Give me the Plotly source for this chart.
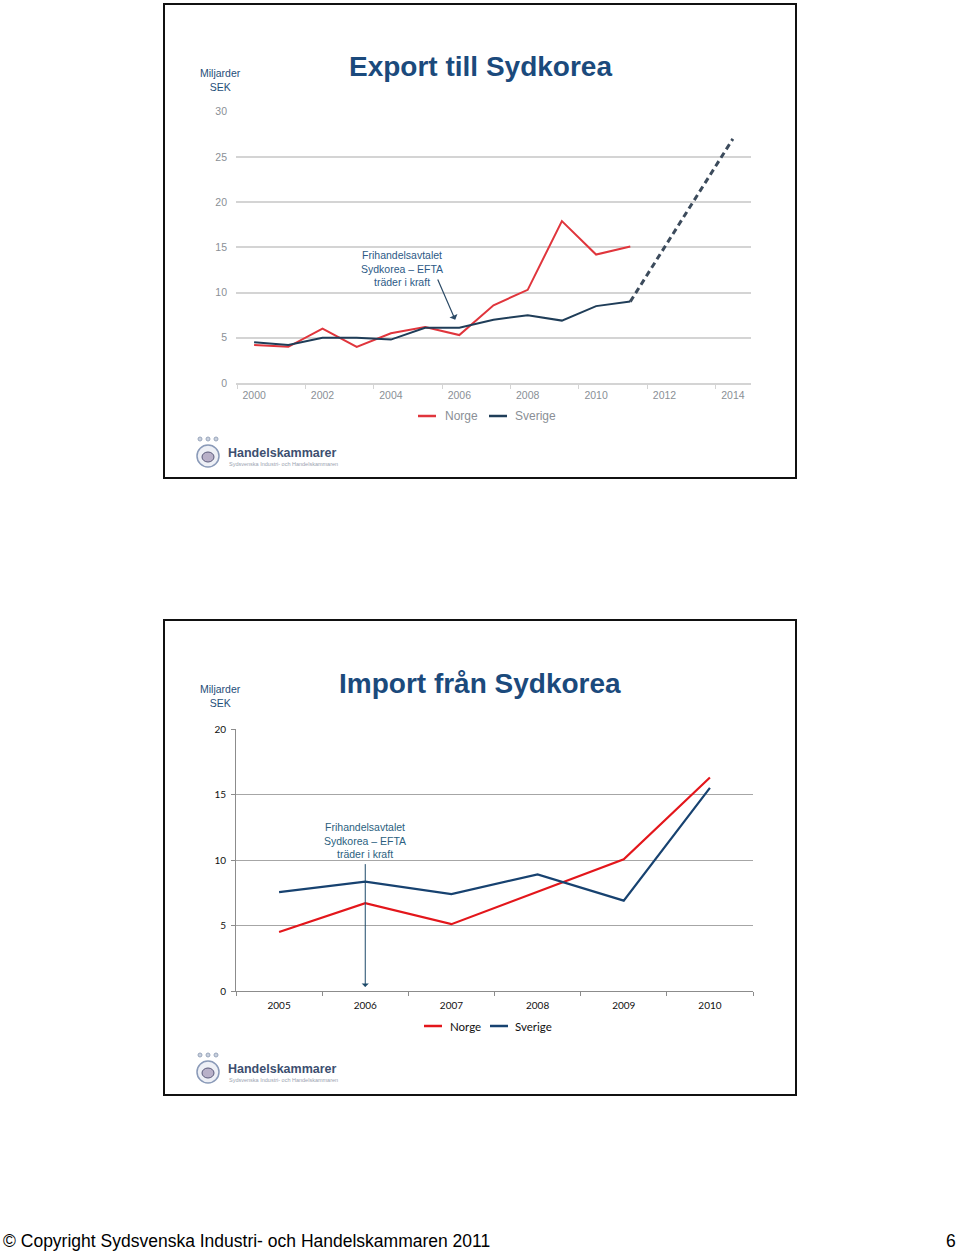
import plotly.graph_objects as go

W, H = 960, 1251

# ---------------- data ----------------
exp_years = [2000, 2001, 2002, 2003, 2004, 2005, 2006, 2007, 2008, 2009, 2010, 2011]
exp_norge = [4.2, 4.0, 6.0, 4.0, 5.5, 6.2, 5.3, 8.6, 10.3, 17.9, 14.2, 15.1]
exp_sverige = [4.5, 4.2, 5.0, 5.0, 4.8, 6.1, 6.1, 7.0, 7.5, 6.9, 8.5, 9.0]
proj_years = [2011, 2012, 2013, 2014]
proj_sverige = [9.0, 15.0, 21.0, 27.0]
exp_yticks = [0, 5, 10, 15, 20, 25, 30]
exp_xticks = [2000, 2002, 2004, 2006, 2008, 2010, 2012, 2014]

imp_years = [2005, 2006, 2007, 2008, 2009, 2010]
imp_norge = [4.5, 6.7, 5.1, 7.6, 10.05, 16.3]
imp_sverige = [7.55, 8.35, 7.4, 8.9, 6.9, 15.5]
imp_yticks = [0, 5, 10, 15, 20]

series_names = ["Norge", "Sverige"]
annot_text = "Frihandelsavtalet<br>Sydkorea – EFTA<br>träder i kraft"


def px(x):
    return x / W


def py(y):
    return 1 - y / H


RED_TOP = "#e0353c"
NAVY_TOP = "#1f3d58"
RED = "#e3161b"
NAVY = "#174270"
TITLE_BLUE = "#1b4a7c"

fig = go.Figure()

# ---------------- top chart: export ----------------
fig.add_trace(go.Scatter(x=exp_years, y=exp_norge, mode="lines", name=series_names[0],
                         line=dict(color=RED_TOP, width=2), xaxis="x", yaxis="y", showlegend=False))
fig.add_trace(go.Scatter(x=exp_years, y=exp_sverige, mode="lines", name=series_names[1],
                         line=dict(color=NAVY_TOP, width=2), xaxis="x", yaxis="y", showlegend=False))
fig.add_trace(go.Scatter(x=proj_years, y=proj_sverige, mode="lines", name="Prognos",
                         line=dict(color="#3c4b5c", width=3, dash="6px,4px"), xaxis="x", yaxis="y",
                         showlegend=False))

# ---------------- bottom chart: import ----------------
fig.add_trace(go.Scatter(x=imp_years, y=imp_norge, mode="lines", name=series_names[0],
                         line=dict(color=RED, width=2.2), xaxis="x2", yaxis="y2", showlegend=False))
fig.add_trace(go.Scatter(x=imp_years, y=imp_sverige, mode="lines", name=series_names[1],
                         line=dict(color=NAVY, width=2.2), xaxis="x2", yaxis="y2", showlegend=False))

shapes = []
annotations = []

# frames
for (y0, y1) in [(4, 478), (620, 1095)]:
    shapes.append(dict(type="rect", xref="paper", yref="paper", x0=px(164), x1=px(796),
                       y0=py(y0), y1=py(y1), line=dict(color="#111111", width=2)))

# titles
TITLE_FONT = "Liberation Sans Narrow, Arial Narrow, Liberation Sans, Arial"
annotations.append(dict(text="<b>Export till Sydkorea</b>", x=px(480), y=py(66), xref="paper", yref="paper",
                        showarrow=False, xanchor="center", yanchor="middle",
                        font=dict(family=TITLE_FONT, size=28, color=TITLE_BLUE)))
annotations.append(dict(text="<b>Import från Sydkorea</b>", x=px(480), y=py(683), xref="paper", yref="paper",
                        showarrow=False, xanchor="center", yanchor="middle",
                        font=dict(family=TITLE_FONT, size=28, color=TITLE_BLUE)))
for yc in (80, 696):
    annotations.append(dict(text="Miljarder<br>SEK", x=px(220), y=py(yc), xref="paper", yref="paper",
                            showarrow=False, xanchor="center", yanchor="middle", align="center",
                            font=dict(family="Liberation Sans, Arial", size=10.5, color="#1f4e79")))

# top annotation with arrow
annotations.append(dict(text=annot_text, x=2004.33, y=12.7, xref="x", yref="y", showarrow=False,
                        xanchor="center", yanchor="middle", align="center",
                        font=dict(family="Liberation Sans, Arial", size=10.5, color="#2c5a86")))
annotations.append(dict(text="", x=2005.88, y=7.0, ax=2005.35, ay=11.6, xref="x", yref="y",
                        axref="x", ayref="y", showarrow=True, arrowhead=1, arrowsize=1.2,
                        arrowwidth=1.2, arrowcolor="#2b4a66"))

# bottom annotation with arrow
annotations.append(dict(text=annot_text, x=2006, y=11.5, xref="x2", yref="y2", showarrow=False,
                        xanchor="center", yanchor="middle", align="center",
                        font=dict(family="Liberation Sans, Arial", size=10.5, color="#2b5f80")))
annotations.append(dict(text="", x=2006, y=0.3, ax=2006, ay=9.8, xref="x2", yref="y2",
                        axref="x2", ayref="y2", showarrow=True, arrowhead=1, arrowsize=1.2,
                        arrowwidth=1, arrowcolor="#1d4a6a"))


# legends (drawn)
def legend(ycen, items, font_color, family, size):
    for (x0, x1, tx, color, name) in items:
        shapes.append(dict(type="line", xref="paper", yref="paper", x0=px(x0), x1=px(x1),
                           y0=py(ycen), y1=py(ycen), line=dict(color=color, width=2.5)))
        annotations.append(dict(text=name, x=px(tx), y=py(ycen), xref="paper", yref="paper",
                                showarrow=False, xanchor="left", yanchor="middle",
                                font=dict(family=family, size=size, color=font_color)))


legend(416, [(418, 436, 443, RED_TOP, series_names[0]), (489, 507, 513, NAVY_TOP, series_names[1])],
       "#8a8f96", "Liberation Sans, Arial", 12)
legend(1026, [(424, 442, 448, RED, series_names[0]), (490, 508, 513, NAVY, series_names[1])],
       "#111111", "Lato, Open Sans, sans-serif", 11.5)

# logos
for ly in (455, 1071):
    shapes.append(dict(type="circle", xref="paper", yref="paper", x0=px(197), x1=px(219),
                       y0=py(ly - 10), y1=py(ly + 12), line=dict(color="#8a9ab8", width=1.5),
                       fillcolor="#eef0f6"))
    shapes.append(dict(type="circle", xref="paper", yref="paper", x0=px(202), x1=px(214),
                       y0=py(ly - 3), y1=py(ly + 7), line=dict(color="#5a5a7a", width=1),
                       fillcolor="#b8b0c8"))
    for sx in (200, 208, 216):
        shapes.append(dict(type="circle", xref="paper", yref="paper", x0=px(sx - 2), x1=px(sx + 2),
                           y0=py(ly - 18), y1=py(ly - 14), line=dict(color="#9aa6bc", width=1),
                           fillcolor="#c8d0de"))
    annotations.append(dict(text="<b>Handelskammarer</b>", x=px(226), y=py(ly - 2), xref="paper",
                            yref="paper", showarrow=False, xanchor="left", yanchor="middle",
                            font=dict(family="Liberation Sans Narrow, Liberation Sans, Arial", size=12.5,
                                      color="#3d4f70")))
    annotations.append(dict(text="Sydsvenska Industri- och Handelskammaren", x=px(227), y=py(ly + 9),
                            xref="paper", yref="paper", showarrow=False, xanchor="left", yanchor="middle",
                            font=dict(family="Liberation Sans, Arial", size=5.5, color="#9aa3b0")))

# footer
annotations.append(dict(text="© Copyright Sydsvenska Industri- och Handelskammaren 2011", x=px(1), y=py(1241),
                        xref="paper", yref="paper", showarrow=False, xanchor="left", yanchor="middle",
                        font=dict(family="Liberation Sans, Arial", size=17.5, color="#000000")))
annotations.append(dict(text="6", x=px(958), y=py(1241), xref="paper", yref="paper", showarrow=False,
                        xanchor="right", yanchor="middle",
                        font=dict(family="Liberation Sans, Arial", size=17.5, color="#000000")))

fig.update_layout(
    template="none",
    width=W, height=H, autosize=False,
    margin=dict(l=0, r=0, t=0, b=0, pad=0, autoexpand=False),
    paper_bgcolor="white", plot_bgcolor="white",
    showlegend=False,
    shapes=shapes, annotations=annotations,
    xaxis=dict(domain=[px(236), px(751)], range=[1999.47, 2014.53], tickvals=exp_xticks,
               automargin=False, anchor="y",
               showgrid=False, zeroline=False, showline=True, linecolor="#d4d4d4", linewidth=1.5,
               ticks="", ticklabelstandoff=2,
               tickfont=dict(family="Liberation Sans, Arial", size=10.5, color="#8a8f96"),
               minor=dict(tickvals=[1999.5 + 2 * i for i in range(8)], ticks="outside",
                          ticklen=4, tickcolor="#d4d4d4", showgrid=False)),
    yaxis=dict(domain=[py(383), py(111.7)], range=[0, 30], tickvals=exp_yticks,
               automargin=False, anchor="x",
               showgrid=True, gridcolor="#d4d4d4", gridwidth=1.5, zeroline=False, showline=False,
               ticks="", ticklabelstandoff=8,
               tickfont=dict(family="Liberation Sans, Arial", size=10.5, color="#8a8f96")),
    xaxis2=dict(domain=[px(236), px(753)], range=[2004.5, 2010.5], tickvals=imp_years,
                automargin=False,
                showgrid=False, zeroline=False, showline=True, linecolor="#8c8c8c", linewidth=1,
                ticks="", ticklabelstandoff=5,
                tickfont=dict(family="Lato, Open Sans, sans-serif", size=10, color="#111111"),
                minor=dict(tickvals=[2004.5 + i for i in range(7)], ticks="outside",
                           ticklen=4, tickcolor="#8c8c8c", showgrid=False),
                anchor="y2"),
    yaxis2=dict(domain=[py(991), py(729)], range=[0, 20], tickvals=imp_yticks,
                automargin=False,
                showgrid=True, gridcolor="#a6a6a6", gridwidth=1, zeroline=False, showline=True,
                linecolor="#8c8c8c", linewidth=1, ticks="outside", ticklen=4, tickcolor="#8c8c8c",
                ticklabelstandoff=3,
                tickfont=dict(family="Lato, Open Sans, sans-serif", size=10, color="#111111"),
                anchor="x2"),
)

fig.write_html("out.html", config={"displayModeBar": False},
               post_script="document.body.style.margin='0px';document.body.style.overflow='hidden';")
